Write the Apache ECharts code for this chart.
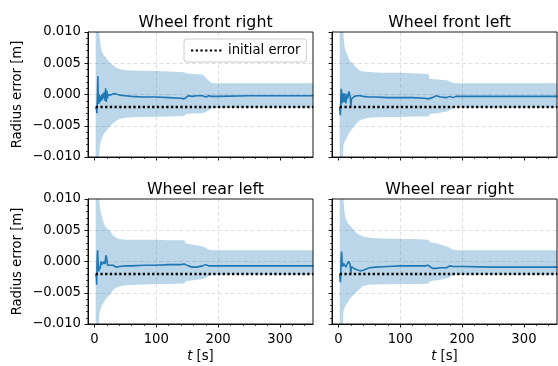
<!DOCTYPE html>
<html><head><meta charset="utf-8">
<script src="https://cdn.jsdelivr.net/npm/echarts@6/dist/echarts.min.js"></script>
<style>html,body{margin:0;padding:0;background:#fff}#c{width:558px;height:366px}</style>
</head><body><div id="c"></div>
<script>
// ---- data ----
const titles = ['Wheel front right', 'Wheel front left', 'Wheel rear left', 'Wheel rear right'];
const xTicks = [0, 100, 200, 300];
const xMinorTicks = [20, 40, 60, 80, 120, 140, 160, 180, 220, 240, 260, 280, 320, 340];
const initialError = -0.002;

const tBand = [2, 4, 6, 8, 10, 12, 15, 18, 22, 26, 30, 35, 40, 50, 70, 100, 120, 145, 148, 160, 175, 180, 185, 190, 250, 354];
const frUpper = [0.05, 0.03, 0.014, 0.0095, 0.0078, 0.0068, 0.0063, 0.006, 0.0054, 0.005, 0.0047, 0.0043, 0.0041, 0.0039, 0.0038, 0.00375, 0.0037, 0.00355, 0.0034, 0.0033, 0.0032, 0.0027, 0.0022, 0.0018, 0.0018, 0.0018];
const frLower = [-0.05, -0.03, -0.014, -0.0088, -0.0076, -0.007, -0.0063, -0.006, -0.0054, -0.005, -0.0046, -0.0042, -0.0039, -0.0037, -0.0036, -0.00355, -0.0035, -0.00345, -0.0031, -0.00305, -0.003, -0.0028, -0.0025, -0.0022, -0.0021, -0.0021];
const flUpper = [0.05, 0.03, 0.015, 0.0095, 0.0075, 0.0068, 0.0062, 0.0054, 0.0051, 0.0046, 0.0042, 0.0038, 0.0037, 0.0036, 0.0035, 0.0035, 0.0034, 0.0033, 0.0025, 0.0024, 0.0023, 0.0021, 0.0019, 0.0018, 0.0018, 0.0018];
const flLower = [-0.05, -0.03, -0.012, -0.008, -0.0075, -0.0072, -0.0066, -0.006, -0.0055, -0.005, -0.0045, -0.0041, -0.0039, -0.0037, -0.0036, -0.0036, -0.0035, -0.0035, -0.0031, -0.003, -0.0027, -0.0025, -0.0022, -0.0021, -0.0021, -0.0021];
const rlUpper = [0.05, 0.03, 0.015, 0.0095, 0.008, 0.0071, 0.0062, 0.0055, 0.0052, 0.0048, 0.0042, 0.0038, 0.0036, 0.0035, 0.0035, 0.0035, 0.0034, 0.0034, 0.0029, 0.0027, 0.0024, 0.0022, 0.0019, 0.0018, 0.0018, 0.0018];
const rlLower = [-0.05, -0.03, -0.012, -0.0082, -0.0075, -0.007, -0.0066, -0.006, -0.0056, -0.0052, -0.0046, -0.0042, -0.004, -0.0038, -0.0037, -0.0036, -0.0036, -0.0035, -0.0031, -0.003, -0.0028, -0.0026, -0.0023, -0.0021, -0.0021, -0.0021];
const rrUpper = [0.05, 0.03, 0.016, 0.01, 0.0076, 0.0068, 0.0062, 0.0058, 0.0054, 0.0049, 0.0045, 0.0042, 0.004, 0.0038, 0.0037, 0.0036, 0.0036, 0.0035, 0.0031, 0.0029, 0.0024, 0.0022, 0.0019, 0.0018, 0.0018, 0.0018];
const rrLower = [-0.05, -0.03, -0.012, -0.008, -0.0074, -0.007, -0.0065, -0.006, -0.0056, -0.0051, -0.0048, -0.0043, -0.0039, -0.0037, -0.00365, -0.0036, -0.0036, -0.00355, -0.0031, -0.003, -0.0027, -0.0025, -0.0022, -0.0021, -0.0021, -0.0021];

const tMean = [2, 3, 3.5, 4, 4.5, 5, 5.5, 6, 7, 8, 9, 10, 11, 12, 13, 14, 15, 16, 17, 18, 19, 20, 21, 22, 24, 26, 30, 35, 40, 50, 60, 80, 100, 120, 140, 145, 148, 152, 158, 165, 175, 180, 185, 190, 200, 250, 300, 354];
const frMean = [-0.002, -0.002, -0.0025, -0.003, -0.001, 0.0005, 0.0029, -0.0005, -0.0015, 0.0, -0.0012, -0.0003, -0.001, 0.0, -0.0008, 0.0002, -0.0006, 0.0004, -0.001, 0.001, -0.0012, 0.0006, -0.0006, 0.0, 0.0001, -0.0001, 0.0001, 0.0001, -0.0001, -0.0002, -0.0003, -0.0004, -0.0004, -0.0005, -0.0006, -0.0007, -0.0004, -0.0002, -0.0003, -0.0002, -0.0002, -0.0004, -0.0002, -0.0003, -0.0003, -0.0002, -0.0002, -0.0002];
const flMean = [-0.002, -0.0033, -0.002, 0.0, 0.0009, 0.0005, -0.0005, -0.0014, -0.0006, 0.0002, -0.0012, 0.0002, -0.0008, -0.0014, -0.0004, 0.0001, -0.0006, -0.0008, 0.0005, 0.0008, -0.0004, -0.0019, -0.0007, -0.0005, -0.0004, -0.0003, -0.0002, -0.0002, -0.0003, -0.0004, -0.0004, -0.0005, -0.0005, -0.0005, -0.0006, -0.0007, -0.0009, -0.0005, -0.0002, -0.0004, -0.0005, -0.0003, -0.0005, -0.0003, -0.0003, -0.0003, -0.0003, -0.0003];
const rlMean = [-0.002, -0.0025, -0.0037, -0.001, 0.0008, 0.0018, 0.0005, -0.0006, -0.0016, -0.0008, -0.0012, -0.0004, 0.0, -0.0005, -0.0008, -0.0007, -0.0002, 0.0, -0.0004, 0.0006, 0.001, 0.0003, -0.0006, -0.0004, -0.0003, -0.0006, -0.0006, -0.0009, -0.0008, -0.0007, -0.0007, -0.0006, -0.0006, -0.0005, -0.0005, -0.0004, -0.0003, -0.0007, -0.0009, -0.0009, -0.0007, -0.0005, -0.0007, -0.0007, -0.0007, -0.0007, -0.0007, -0.0007];
const rrMean = [-0.002, -0.0033, -0.0025, -0.0005, 0.0008, 0.0016, 0.0009, -0.0004, -0.0008, -0.0003, -0.0006, 0.0, -0.0004, -0.0009, -0.0008, -0.0004, -0.0002, -0.0003, 0.0, 0.0002, -0.0006, -0.0019, -0.0008, -0.0008, -0.001, -0.0012, -0.0013, -0.0015, -0.0014, -0.001, -0.0009, -0.0008, -0.0007, -0.0007, -0.0007, -0.0006, -0.0006, -0.0011, -0.0011, -0.001, -0.001, -0.0007, -0.0008, -0.0008, -0.0008, -0.0009, -0.0009, -0.0009];

// ---- chart ----
const FONT = 'DejaVu Sans';
const panels = [
  {mean: frMean, upper: frUpper, lower: frLower},
  {mean: flMean, upper: flUpper, lower: flLower},
  {mean: rlMean, upper: rlUpper, lower: rlLower},
  {mean: rrMean, upper: rrUpper, lower: rrLower}
];
const gridBoxes = [
  {left: 88, top: 32, width: 225, height: 125},
  {left: 332, top: 32, width: 225, height: 125},
  {left: 88, top: 199, width: 225, height: 125},
  {left: 332, top: 199, width: 225, height: 125}
];
const X_MIN = -10.5, X_MAX = 353.5;
const gridLine = {show: true, showMinLine: false, showMaxLine: false, lineStyle: {color: '#dcdcdc', width: 0.9, type: [4, 2.5]}};
const fmtY = v => v.toFixed(3).replace('-', '\u2212');

const grid = gridBoxes.map(b => Object.assign({show: true, borderColor: '#000', borderWidth: 0.9, backgroundColor: 'transparent', z: 5}, b));
const xAxis = [];
const yAxis = [];
const series = [];
const title = [];

gridBoxes.forEach((b, i) => {
  const bottomRow = i >= 2, leftCol = i % 2 === 0;
  title.push({text: titles[i], left: b.left + b.width / 2, top: bottomRow ? 177 : 10, textAlign: 'center',
    textStyle: {fontSize: 15.8, fontWeight: 'normal', color: '#000', fontFamily: FONT}});
  xAxis.push({
    type: 'value', gridIndex: i, min: X_MIN, max: X_MAX, position: 'bottom',
    axisLine: {show: true, onZero: false, lineStyle: {color: '#000', width: 0.9}},
    axisTick: {show: true, length: 3.5, lineStyle: {color: '#000', width: 0.9}, customValues: xTicks},
    axisLabel: {show: bottomRow, customValues: xTicks, color: '#000', fontSize: 13.2, fontFamily: FONT, margin: 9},
    splitLine: gridLine,
    minorTick: {show: false},
    name: bottomRow ? '{i|t} [s]' : '', nameLocation: 'middle', nameGap: 26,
    nameTextStyle: {fontSize: 13.2, color: '#000', fontFamily: FONT,
      rich: {i: {fontStyle: 'italic', fontSize: 13.2, color: '#000', fontFamily: FONT}}}
  });
  yAxis.push({
    type: 'value', gridIndex: i, min: -0.01, max: 0.01, interval: 0.005,
    axisLine: {show: true, onZero: false, lineStyle: {color: '#000', width: 0.9}},
    axisTick: {show: true, length: 3.5, lineStyle: {color: '#000', width: 0.9}},
    minorTick: {show: true, splitNumber: 5, length: 2, lineStyle: {color: '#000', width: 0.7}},
    axisLabel: {show: leftCol, formatter: fmtY, color: '#000', fontSize: 13.2, fontFamily: FONT, margin: 7},
    splitLine: gridLine,
    name: leftCol ? 'Radius error [m]' : '', nameLocation: 'middle', nameGap: 64,
    nameTextStyle: {fontSize: 13.2, color: '#000', fontFamily: FONT}
  });
  const p = panels[i];
  // confidence band: polygon upper edge forward, lower edge backward, via the axes' scales
  series.push({type: 'custom', xAxisIndex: i, yAxisIndex: i, silent: true, clip: true, z: 1,
    data: [[tBand[0], p.upper[0]]],
    renderItem: (params, api) => {
      const up = tBand.map((t, k) => api.coord([t, p.upper[k]]));
      const lo = tBand.map((t, k) => api.coord([t, p.lower[k]])).reverse();
      const cs = params.coordSys;
      return {type: 'polygon', shape: {points: up.concat(lo)},
        clipPath: {type: 'rect', shape: {x: cs.x, y: cs.y, width: cs.width, height: cs.height}},
        style: {fill: 'rgba(31,119,180,0.3)'}};
    }});
  series.push({type: 'line', name: 'estimate', xAxisIndex: i, yAxisIndex: i,
    data: tMean.map((t, k) => [t, p.mean[k]]), symbol: 'none',
    lineStyle: {color: '#1f77b4', width: 1.6}, z: 2});
  series.push({type: 'line', name: 'initial error', xAxisIndex: i, yAxisIndex: i,
    data: [[tBand[0], initialError], [tBand[tBand.length - 1], initialError]], symbol: 'none',
    itemStyle: {color: '#000'},
    lineStyle: {color: '#000', width: 2.3, type: [2.3, 2.4]}, z: 3});
});
// minor x ticks (every 20) on overlay axes
gridBoxes.forEach((b, i) => {
  xAxis.push({
    type: 'value', gridIndex: i, min: X_MIN, max: X_MAX, position: 'bottom',
    axisLine: {show: false, onZero: false},
    axisTick: {show: true, length: 2, lineStyle: {color: '#000', width: 0.7}, customValues: xMinorTicks},
    axisLabel: {show: false}, splitLine: {show: false}, minorTick: {show: false}
  });
});

const chart = echarts.init(document.getElementById('c'), null, {renderer: 'canvas'});
chart.setOption({
  animation: false,
  backgroundColor: '#fff',
  title, grid, xAxis, yAxis, series,
  legend: {
    data: ['initial error'], left: 184, top: 39, padding: [5, 6, 5, 6],
    itemWidth: 32, itemHeight: 10, selectedMode: false,
    itemStyle: {color: 'rgba(0,0,0,0)', borderColor: 'rgba(0,0,0,0)', borderWidth: 0},
    backgroundColor: 'rgba(255,255,255,0.85)', borderColor: '#cccccc', borderWidth: 1, borderRadius: 3,
    textStyle: {fontSize: 13.2, color: '#000', fontFamily: FONT}
  }
});
</script></body></html>
